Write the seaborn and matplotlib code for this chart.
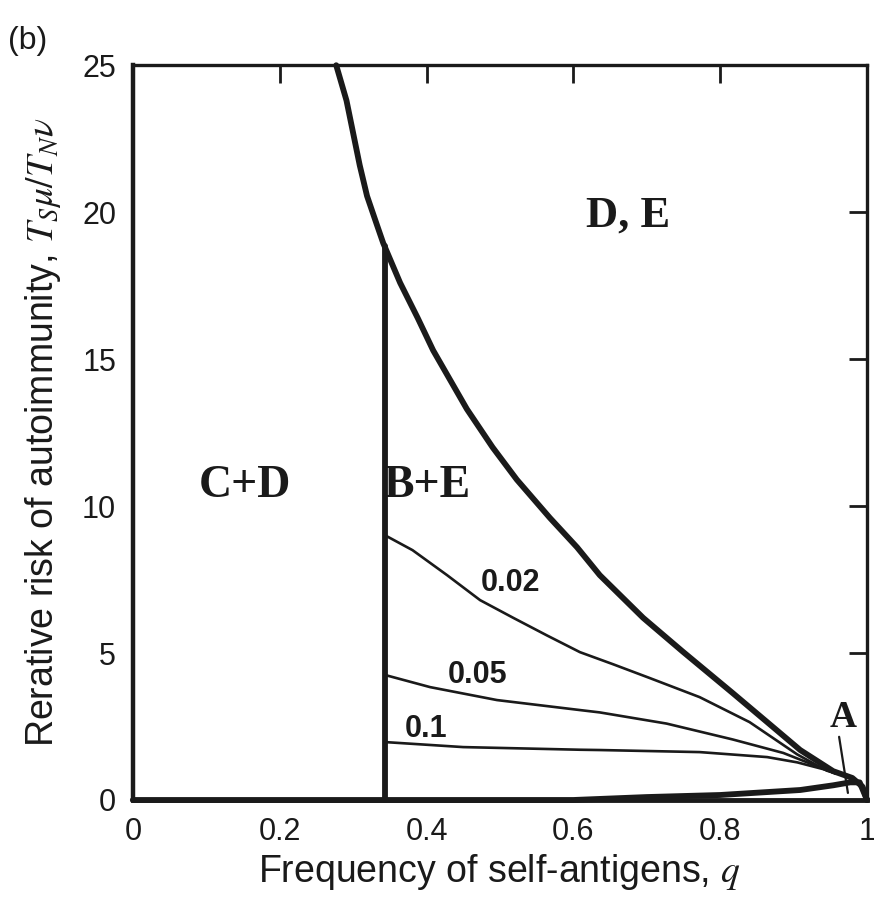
import matplotlib
matplotlib.use("Agg")
import matplotlib.pyplot as plt
import seaborn as sns
import pandas as pd

# boundary between D,E and B+E (upper thick curve)
upper_q = [0.277, 0.291, 0.30, 0.309, 0.319, 0.332, 0.341, 0.364, 0.388, 0.409, 0.455,
           0.49, 0.523, 0.568, 0.605, 0.636, 0.695, 0.749, 0.817, 0.864, 0.909,
           0.954, 0.98, 0.994, 1.0]
upper_v = [25.0, 23.8, 22.7, 21.6, 20.55, 19.6, 18.95, 17.6, 16.4, 15.3, 13.3,
           12.0, 10.9, 9.6, 8.6, 7.65, 6.2, 5.05, 3.64, 2.65, 1.7,
           0.98, 0.75, 0.45, 0.0]

# lower thick curve (region A)
lower_q = [0.0, 0.6, 0.65, 0.70, 0.80, 0.909, 0.954, 0.977, 0.99, 1.0]
lower_v = [0.0, 0.0, 0.05, 0.10, 0.17, 0.34, 0.50, 0.60, 0.60, 0.0]

# vertical boundary C+D | B+E
vert_q = [0.344, 0.344]
vert_v = [0.0, 18.85]

# thin curves for parameter values
c002_q = [0.344, 0.381, 0.428, 0.473, 0.518, 0.564, 0.609, 0.654, 0.704, 0.772, 0.84, 0.905, 0.945, 0.958]
c002_v = [9.0, 8.5, 7.65, 6.8, 6.2, 5.6, 5.03, 4.62, 4.15, 3.5, 2.65, 1.55, 1.0, 0.9]
c005_q = [0.344, 0.405, 0.496, 0.609, 0.636, 0.727, 0.817, 0.886, 0.945, 0.958]
c005_v = [4.25, 3.84, 3.4, 3.06, 2.98, 2.6, 2.06, 1.6, 1.02, 0.9]
c01_q = [0.344, 0.45, 0.609, 0.636, 0.772, 0.864, 0.905, 0.945, 0.958]
c01_v = [1.97, 1.8, 1.71, 1.7, 1.63, 1.46, 1.28, 1.02, 0.9]

param_labels = ["0.02", "0.05", "0.1"]
region_labels = ["C+D", "B+E", "D, E", "A"]

sns.set_style("white")
plt.rcParams["font.family"] = ["Liberation Sans", "DejaVu Sans"]
plt.rcParams["mathtext.fontset"] = "stix"

fig = plt.figure(figsize=(8.74, 9.06), dpi=100)
ax = fig.add_axes([0.152, 0.117, 0.84, 0.811])

thick = dict(color="#1a1a1a", linewidth=4.2, sort=False, estimator=None, legend=False)
thin = dict(color="#1a1a1a", linewidth=1.9, sort=False, estimator=None, legend=False)

sns.lineplot(data=pd.DataFrame({"q": upper_q, "v": upper_v}), x="q", y="v", ax=ax, **thick)
sns.lineplot(data=pd.DataFrame({"q": lower_q, "v": lower_v}), x="q", y="v", ax=ax, **thick)
sns.lineplot(data=pd.DataFrame({"q": vert_q, "v": vert_v}), x="q", y="v", ax=ax, **thick)
for cq, cv in [(c002_q, c002_v), (c005_q, c005_v), (c01_q, c01_v)]:
    sns.lineplot(data=pd.DataFrame({"q": cq, "v": cv}), x="q", y="v", ax=ax, **thin)
for line in ax.lines:
    line.set_clip_on(False)
    line.set_solid_joinstyle("round")

ax.set_xlim(0, 1)
ax.set_ylim(0, 25)
ax.set_xticks([0, 0.2, 0.4, 0.6, 0.8, 1])
ax.set_xticklabels(["0", "0.2", "0.4", "0.6", "0.8", "1"])
ax.set_yticks([0, 5, 10, 15, 20, 25])
ax.tick_params(direction="in", length=13, width=2, labelsize=22, color="#1a1a1a",
               top=True, right=True, pad=12, labelcolor="#1a1a1a")
for side, w in [("left", 3.2), ("bottom", 3.5), ("top", 2.4), ("right", 2.4)]:
    ax.spines[side].set_linewidth(w)
    ax.spines[side].set_color("#1a1a1a")

ax.set_xlabel("Frequency of self-antigens, $q$", fontsize=27, color="#1a1a1a", labelpad=4)
ax.set_ylabel(r"Rerative risk of autoimmunity, $T_S\mu/T_N\nu$", fontsize=27,
              color="#1a1a1a", labelpad=14)

serif = dict(family=["Liberation Serif", "DejaVu Serif"], fontweight="bold",
             color="#1a1a1a", ha="center", va="center")
ax.text(0.152, 10.7, region_labels[0], fontsize=33, **serif)
ax.text(0.40, 10.7, region_labels[1], fontsize=33, **serif)
ax.text(0.675, 19.9, region_labels[2], fontsize=32, **serif)
ax.text(0.967, 2.8, region_labels[3], fontsize=27, **serif)
ax.plot([0.962, 0.974], [2.15, 0.24], color="#1a1a1a", linewidth=1.6)

sans = dict(fontweight="bold", color="#1a1a1a", ha="center", va="center", fontsize=22)
ax.text(0.514, 7.4, param_labels[0], **sans)
ax.text(0.47, 4.25, param_labels[1], **sans)
ax.text(0.40, 2.4, param_labels[2], **sans)

fig.text(0.032, 0.955, "(b)", fontsize=23, color="#1a1a1a", ha="center", va="center")

fig.savefig("out.png", dpi=100)
plt.close(fig)
